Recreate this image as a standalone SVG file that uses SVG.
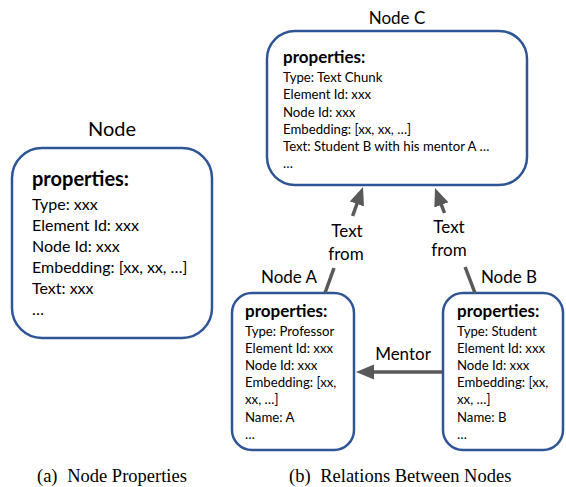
<svg xmlns="http://www.w3.org/2000/svg" width="566" height="487" viewBox="0 0 566 487">
  <defs>
    <style>
      .box { fill: #ffffff; stroke: #2F5597; stroke-width: 2.5; }
      .t { font-family: Lato, "Open Sans", "Liberation Sans", sans-serif; fill: #000; }
      .title { font-size: 17px; text-anchor: middle; }
      .big { font-size: 20px; text-anchor: middle; }
      .pb { font-weight: bold; font-size: 20px; }
      .pbs { font-weight: bold; font-size: 17px; }
      .body { font-size: 16px; }
      .bs { font-size: 13.2px; }
      .lbl { font-size: 17px; text-anchor: middle; }
      .cap { font-family: "Liberation Serif", "Times New Roman", serif; font-size: 18.5px; fill: #000; }
      .edge { fill: none; stroke: #595959; stroke-width: 3.5; }
    </style>
    <marker id="arrow" markerUnits="userSpaceOnUse" markerWidth="18" markerHeight="16" refX="10" refY="8" orient="auto">
      <path d="M0,0.5 L18,8 L0,15.5 Z" fill="#595959"/>
    </marker>
  </defs>

  <!-- (a) Node properties -->
  <g id="node-generic">
    <text class="t big" x="112" y="136">Node</text>
    <rect class="box" x="12" y="148" width="200" height="190" rx="30" ry="30"/>
    <text class="t pb" x="32" y="186">properties:</text>
    <text class="t body" x="32" y="210">Type: xxx</text>
    <text class="t body" x="32" y="231">Element Id: xxx</text>
    <text class="t body" x="32" y="252">Node Id: xxx</text>
    <text class="t body" x="32" y="273">Embedding: [xx, xx, …]</text>
    <text class="t body" x="32" y="294">Text: xxx</text>
    <text class="t body" x="32" y="315">…</text>
  </g>

  <!-- (b) Relations -->
  <g id="node-c">
    <text class="t title" x="397" y="24">Node C</text>
    <rect class="box" x="267" y="31" width="260" height="154" rx="28" ry="28"/>
    <text class="t pbs" x="283" y="63">properties:</text>
    <text class="t bs" x="283" y="82">Type: Text Chunk</text>
    <text class="t bs" x="283" y="99.3">Element Id: xxx</text>
    <text class="t bs" x="283" y="116.6">Node Id: xxx</text>
    <text class="t bs" x="283" y="134">Embedding: [xx, xx, …]</text>
    <text class="t bs" x="283" y="151">Text: Student B with his mentor A …</text>
    <text class="t bs" x="283" y="168">…</text>
  </g>

  <g id="node-a">
    <text class="t title" x="289" y="283">Node A</text>
    <rect class="box" x="232" y="293" width="122" height="157" rx="20" ry="20"/>
    <text class="t pbs" x="245" y="317">properties:</text>
    <text class="t bs" x="245" y="336">Type: Professor</text>
    <text class="t bs" x="245" y="353">Element Id: xxx</text>
    <text class="t bs" x="245" y="370">Node Id: xxx</text>
    <text class="t bs" x="245" y="387">Embedding: [xx,</text>
    <text class="t bs" x="245" y="404">xx, …]</text>
    <text class="t bs" x="245" y="422">Name: A</text>
    <text class="t bs" x="245" y="439">…</text>
  </g>

  <g id="node-b">
    <text class="t title" x="509" y="283">Node B</text>
    <rect class="box" x="443" y="293" width="120" height="157" rx="20" ry="20"/>
    <text class="t pbs" x="457" y="317">properties:</text>
    <text class="t bs" x="457" y="336">Type: Student</text>
    <text class="t bs" x="457" y="353">Element Id: xxx</text>
    <text class="t bs" x="457" y="370">Node Id: xxx</text>
    <text class="t bs" x="457" y="387">Embedding: [xx,</text>
    <text class="t bs" x="457" y="404">xx, …]</text>
    <text class="t bs" x="457" y="422">Name: B</text>
    <text class="t bs" x="457" y="439">…</text>
  </g>

  <g id="connectors">
    <!-- A -> C : Text from -->
    <path class="edge" d="M325,293 L334,268"/>
    <path class="edge" d="M352.6,216 L360.3,194.5" marker-end="url(#arrow)"/>
    <text class="t lbl" x="347" y="237">Text</text>
    <text class="t lbl" x="346" y="260">from</text>
    <!-- B -> C : Text from -->
    <path class="edge" d="M475,293 L465.1,267"/>
    <path class="edge" d="M444.5,213 L437.85,195.5" marker-end="url(#arrow)"/>
    <text class="t lbl" x="449" y="233">Text</text>
    <text class="t lbl" x="449" y="256">from</text>
    <!-- B -> A : Mentor -->
    <path class="edge" d="M442,372 L364,372" marker-end="url(#arrow)"/>
    <text class="t lbl" x="403" y="360">Mentor</text>
  </g>

  <g id="captions">
    <text class="cap" x="37" y="482">(a)<tspan dx="5"> Node Properties</tspan></text>
    <text class="cap" x="289" y="482">(b)<tspan dx="5"> Relations Between Nodes</tspan></text>
  </g>
</svg>
